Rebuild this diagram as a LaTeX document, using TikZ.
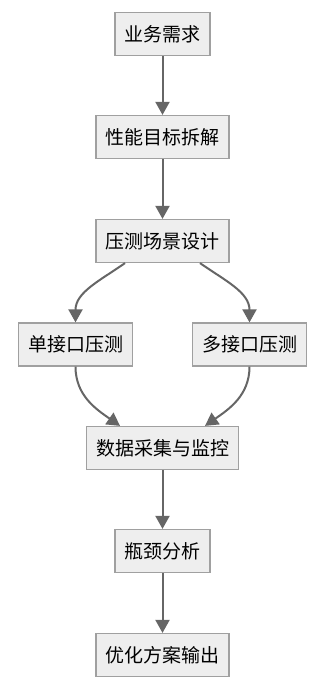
\documentclass[tikz,border=0pt]{standalone}
\usepackage{fontspec}
\setmainfont{Noto Sans CJK SC}
\usepackage{tikz}
\usepackage{xcolor}
\usetikzlibrary{arrows.meta}

\definecolor{boxfill}{HTML}{EEEEEE}
\definecolor{boxline}{HTML}{A0A0A0}
\definecolor{flowline}{HTML}{666666}

\begin{document}
\begin{tikzpicture}[x=1pt,y=1pt,
  stage/.style={draw=boxline,fill=boxfill,line width=1.2pt,inner xsep=9.5pt,
    minimum height=43pt,font=\fontsize{19}{19}\selectfont},
  flow/.style={draw=flowline,line width=2pt,-{Triangle[length=13pt,width=14pt]}}]
\useasboundingbox (0,0) rectangle (324,687);

\node[stage] (req) at (162.5,653) {业务需求};
\node[stage] (goal) at (162.5,550) {性能目标拆解};
\node[stage] (scene) at (162.5,446) {压测场景设计};
\node[stage] (single) at (75.5,342.5) {单接口压测};
\node[stage] (multi) at (249.5,342.5) {多接口压测};
\node[stage] (collect) at (162.5,239) {数据采集与监控};
\node[stage] (neck) at (162.5,136) {瓶颈分析};
\node[stage] (out) at (162.5,32) {优化方案输出};

% Arrows
\draw[flow] (req) -- (goal);
\draw[flow] (goal) -- (scene);
\draw[flow] ([xshift=-37.5pt]scene.south) to[out=-145,in=90] (single.north);
\draw[flow] ([xshift=37.5pt]scene.south) to[out=-35,in=90] (multi.north);
\draw[flow] (single.south) to[out=-90,in=145] ([xshift=-42.5pt]collect.north);
\draw[flow] (multi.south) to[out=-90,in=35] ([xshift=42.5pt]collect.north);
\draw[flow] (collect) -- (neck);
\draw[flow] (neck) -- (out);
\end{tikzpicture}
\end{document}
